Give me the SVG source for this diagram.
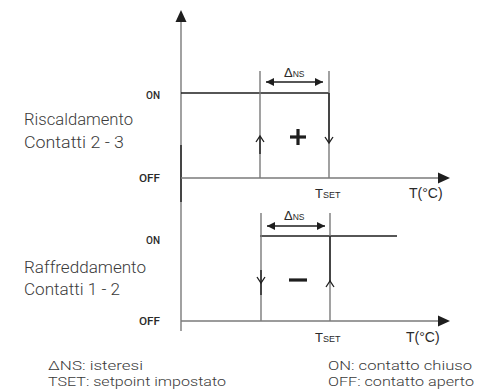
<svg xmlns="http://www.w3.org/2000/svg" width="484" height="390" viewBox="0 0 484 390">
<style>
.ax{stroke:#7a7a7a;stroke-width:1.4;fill:none}
.blk{stroke:#1e1e1e;stroke-width:1.4;fill:none}
.gr{stroke:#7a7a7a;stroke-width:1.4;fill:none}
.chev{stroke:#1e1e1e;stroke-width:1.3;fill:none}
.sign{stroke:#1e1e1e;stroke-width:3.2;fill:none}
.lbl{font-family:Roboto,"Liberation Sans",Arial,sans-serif;font-size:10px;font-weight:500;fill:#2a2a2a}
.desc{font-family:Roboto,"Noto Sans",sans-serif;font-weight:300;font-size:16px;fill:#3a3a3a}
.leg{font-family:Roboto,"Noto Sans",sans-serif;font-weight:300;font-size:13.5px;fill:#3a3a3a}
.ar{font-family:"Liberation Sans",Arial,sans-serif;fill:#2a2a2a}
</style>
<defs>
<marker id="ah" viewBox="0 0 10 10" refX="10" refY="5" markerWidth="8" markerHeight="8" markerUnits="userSpaceOnUse" orient="auto-start-reverse">
<path d="M0,0 L10,5 L0,10 z" fill="#1e1e1e"/>
</marker>
</defs>
<g id="axes">
<line class="ax" x1="181" y1="20" x2="181" y2="331"/>
<line class="blk" x1="181" y1="145" x2="181" y2="202"/>
<path d="M181,10 L175.5,22 L186.5,22 z" fill="#1e1e1e"/>
<line class="ax" x1="181" y1="178" x2="440" y2="178"/>
<path d="M450,178 L438,172.5 L438,183.5 z" fill="#1e1e1e"/>
<line class="ax" x1="181" y1="321" x2="440" y2="321"/>
<path d="M450,321 L438,315.5 L438,326.5 z" fill="#1e1e1e"/>
</g>
<g id="heating">
<line class="blk" x1="181" y1="93" x2="329" y2="93"/>
<line class="gr" x1="260" y1="71" x2="260" y2="178"/>
<line class="blk" x1="260" y1="137" x2="260" y2="154"/>
<line class="gr" x1="329" y1="71" x2="329" y2="178"/>
<line class="blk" x1="329" y1="93" x2="329" y2="142"/>
<path class="chev" d="M256,142 L260,136 L264,142"/>
<path class="chev" d="M325,137 L329,143 L333,137"/>
<line class="blk" x1="266" y1="82" x2="323" y2="82" marker-start="url(#ah)" marker-end="url(#ah)"/>
<line class="sign" x1="290" y1="137" x2="306" y2="137"/>
<line class="sign" x1="298" y1="129" x2="298" y2="145"/>
</g>
<g id="cooling">
<line class="blk" x1="260" y1="236" x2="397" y2="236"/>
<line class="gr" x1="261" y1="213" x2="261" y2="321"/>
<line class="blk" x1="261" y1="270" x2="261" y2="295"/>
<line class="gr" x1="330" y1="213" x2="330" y2="321"/>
<line class="blk" x1="330" y1="236" x2="330" y2="282"/>
<path class="chev" d="M257,277 L261,283 L265,277"/>
<path class="chev" d="M326,287 L330,281 L334,287"/>
<line class="blk" x1="267" y1="226" x2="325" y2="226" marker-start="url(#ah)" marker-end="url(#ah)"/>
<line class="sign" x1="289" y1="280" x2="307" y2="280"/>
</g>
<g id="labels">
<text class="lbl" x="160" y="99" text-anchor="end">ON</text>
<text class="lbl" x="160" y="182" text-anchor="end" textLength="21" lengthAdjust="spacingAndGlyphs">OFF</text>
<text class="lbl" x="160" y="244" text-anchor="end">ON</text>
<text class="lbl" x="160" y="325" text-anchor="end" textLength="21" lengthAdjust="spacingAndGlyphs">OFF</text>
<text class="desc" x="24" y="125" textLength="109" lengthAdjust="spacingAndGlyphs">Riscaldamento</text>
<text class="desc" x="24" y="148" textLength="100" lengthAdjust="spacingAndGlyphs">Contatti 2 - 3</text>
<text class="desc" x="24" y="273" textLength="122" lengthAdjust="spacingAndGlyphs">Raffreddamento</text>
<text class="desc" x="24" y="295" textLength="96" lengthAdjust="spacingAndGlyphs">Contatti 1 - 2</text>
<text class="ar" x="284" y="77"><tspan font-size="13">Δ</tspan><tspan font-size="8.5">NS</tspan></text>
<text class="ar" x="284" y="220"><tspan font-size="13">Δ</tspan><tspan font-size="8.5">NS</tspan></text>
<text class="ar" x="315" y="198"><tspan font-size="13">T</tspan><tspan font-size="9">SET</tspan></text>
<text class="ar" x="315" y="342"><tspan font-size="13">T</tspan><tspan font-size="9">SET</tspan></text>
<text class="ar" x="409" y="198" font-size="14">T(°C)</text>
<text class="ar" x="406" y="342" font-size="14">T(°C)</text>
<text class="leg" x="48" y="370" textLength="95" lengthAdjust="spacingAndGlyphs">ΔNS: isteresi</text>
<text class="leg" x="48" y="386" textLength="178" lengthAdjust="spacingAndGlyphs">TSET: setpoint impostato</text>
<text class="leg" x="328" y="370" textLength="144" lengthAdjust="spacingAndGlyphs">ON: contatto chiuso</text>
<text class="leg" x="328" y="386" textLength="146" lengthAdjust="spacingAndGlyphs">OFF: contatto aperto</text>
</g>
</svg>
